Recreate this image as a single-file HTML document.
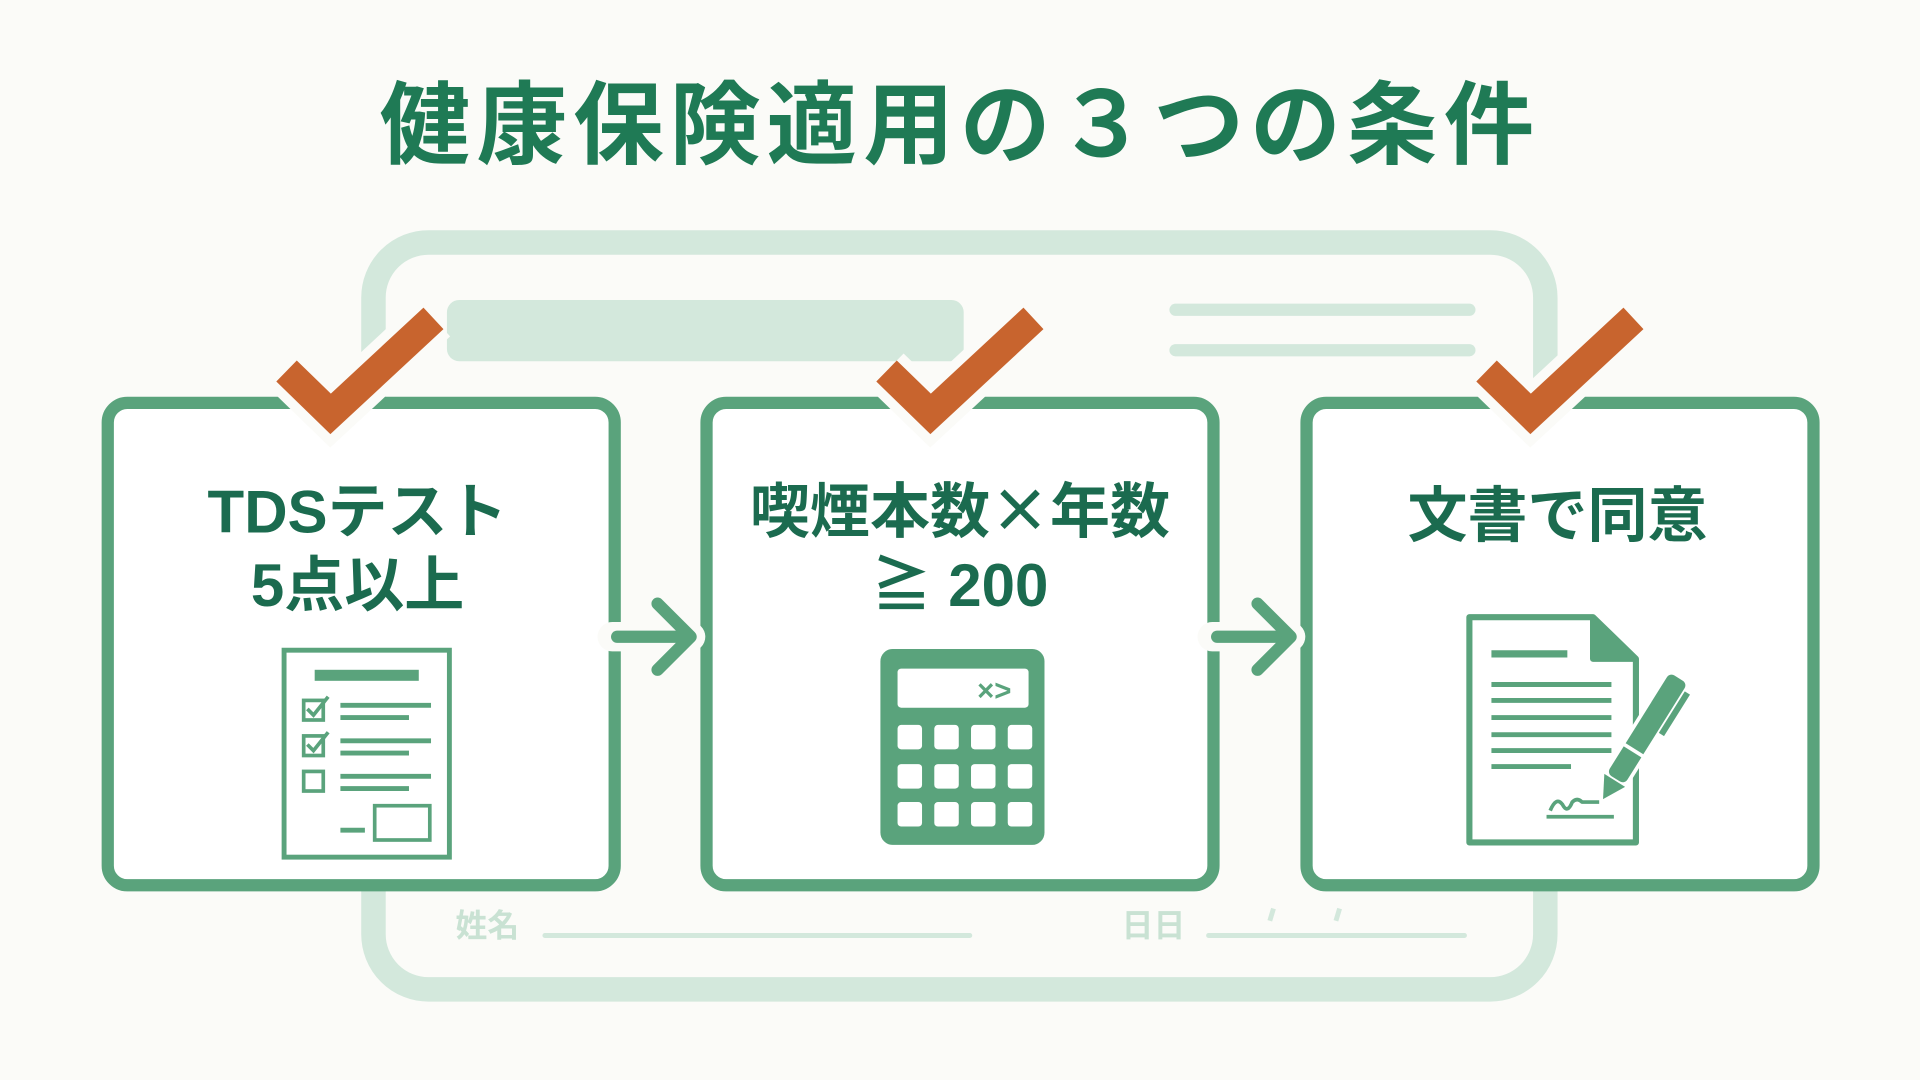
<!DOCTYPE html>
<html><head><meta charset="utf-8"><style>
html,body{margin:0;padding:0;background:#fbfbf8;}
svg{display:block}
text{font-family:"Liberation Sans","Noto Sans CJK JP",sans-serif;font-weight:700;}
</style></head><body>
<svg width="1920" height="1080" viewBox="0 0 1568 882" xmlns="http://www.w3.org/2000/svg">
<rect width="1568" height="882" fill="#fbfbf8"/>
<text x="784" y="128" text-anchor="middle" font-size="74" fill="#1f7a55" letter-spacing="5">健康保険適用の３つの条件</text>
<!-- background form -->
<rect x="305" y="198" width="957" height="610" rx="45" fill="none" stroke="#d3e8dc" stroke-width="20"/>
<rect x="365" y="245" width="422" height="50" rx="10" fill="#d3e8dc"/>
<line x1="960" y1="253" x2="1200" y2="253" stroke="#d3e8dc" stroke-width="10" stroke-linecap="round"/>
<line x1="960" y1="286" x2="1200" y2="286" stroke="#d3e8dc" stroke-width="10" stroke-linecap="round"/>
<text x="372" y="765" font-size="26" fill="#c9e2d3">姓名</text>
<line x1="445" y1="764" x2="792" y2="764" stroke="#d3e8dc" stroke-width="4" stroke-linecap="round"/>
<text x="916" y="765" font-size="26" fill="#c9e2d3">日日</text>
<line x1="987" y1="764" x2="1196" y2="764" stroke="#d3e8dc" stroke-width="4" stroke-linecap="round"/>
<line x1="1040" y1="742" x2="1037" y2="752" stroke="#d3e8dc" stroke-width="4"/>
<line x1="1094" y1="742" x2="1091" y2="752" stroke="#d3e8dc" stroke-width="4"/>
<!-- boxes -->
<g fill="#ffffff" stroke="#5aa37c" stroke-width="10">
<rect x="88" y="329" width="414" height="394" rx="16"/>
<rect x="577" y="329" width="414" height="394" rx="16"/>
<rect x="1067" y="329" width="414" height="394" rx="16"/>
</g>
<!-- arrows -->
<g stroke-linecap="round" stroke-linejoin="round" fill="none">
<line x1="500" y1="520" x2="560" y2="520" stroke="#fbfbf8" stroke-width="24"/>
<polyline points="537,493 564,520 537,547" stroke="#fbfbf8" stroke-width="24"/>
<line x1="504" y1="520" x2="560" y2="520" stroke="#5aa37c" stroke-width="10"/>
<polyline points="537,493 564,520 537,547" stroke="#5aa37c" stroke-width="10"/>
<line x1="990" y1="520" x2="1050" y2="520" stroke="#fbfbf8" stroke-width="24"/>
<polyline points="1027,493 1054,520 1027,547" stroke="#fbfbf8" stroke-width="24"/>
<line x1="994" y1="520" x2="1050" y2="520" stroke="#5aa37c" stroke-width="10"/>
<polyline points="1027,493 1054,520 1027,547" stroke="#5aa37c" stroke-width="10"/>
</g>
<!-- checks -->
<g fill="none" stroke-linejoin="miter">
<polyline points="234,303 270,338 354,260" stroke="#fbfbf8" stroke-width="40"/>
<polyline points="234,303 270,338 354,260" stroke="#c8642e" stroke-width="24"/>
<polyline points="724,303 760,338 844,260" stroke="#fbfbf8" stroke-width="40"/>
<polyline points="724,303 760,338 844,260" stroke="#c8642e" stroke-width="24"/>
<polyline points="1214,303 1250,338 1334,260" stroke="#fbfbf8" stroke-width="40"/>
<polyline points="1214,303 1250,338 1334,260" stroke="#c8642e" stroke-width="24"/>
</g>
<!-- texts -->
<g font-size="49" fill="#1b6b4f" text-anchor="middle">
<text x="292" y="435">TDSテスト</text>
<text x="292" y="495">5点以上</text>
<text x="784" y="435">喫煙本数<tspan font-family="Noto Sans CJK JP, sans-serif">×</tspan>年数</text>
<text x="784" y="495">≧ 200</text>
<text x="1272" y="438">文書で同意</text>
</g>
<!-- icon1 -->
<g stroke="#5aa37c" fill="none">
<rect x="232" y="531" width="135" height="169" stroke-width="4"/>
<rect x="257" y="547" width="85" height="9" fill="#5aa37c" stroke="none"/>
<rect x="248" y="572" width="16" height="16" stroke-width="3"/>
<rect x="248" y="601" width="16" height="16" stroke-width="3"/>
<rect x="248" y="630" width="16" height="16" stroke-width="3"/>
<polyline points="251,579 256,584 268,569" stroke-width="3"/>
<polyline points="251,608 256,613 268,598" stroke-width="3"/>
<g stroke-width="4">
<line x1="278" y1="576" x2="352" y2="576"/><line x1="278" y1="586" x2="334" y2="586"/>
<line x1="278" y1="605" x2="352" y2="605"/><line x1="278" y1="615" x2="334" y2="615"/>
<line x1="278" y1="634" x2="352" y2="634"/><line x1="278" y1="644" x2="334" y2="644"/>
<line x1="278" y1="678" x2="298" y2="678"/>
</g>
<rect x="306" y="658" width="45" height="28" stroke-width="3"/>
</g>
<!-- icon2 -->
<rect x="719" y="530" width="134" height="160" rx="10" fill="#5aa37c"/>
<rect x="733" y="546" width="107" height="32" rx="3" fill="#fff"/>
<text x="812" y="572" font-size="24" fill="#5aa37c" text-anchor="middle">×&gt;</text>
<g fill="#fff">
<rect x="733" y="592" width="20" height="20" rx="3"/><rect x="763" y="592" width="20" height="20" rx="3"/><rect x="793" y="592" width="20" height="20" rx="3"/><rect x="823" y="592" width="20" height="20" rx="3"/>
<rect x="733" y="624" width="20" height="20" rx="3"/><rect x="763" y="624" width="20" height="20" rx="3"/><rect x="793" y="624" width="20" height="20" rx="3"/><rect x="823" y="624" width="20" height="20" rx="3"/>
<rect x="733" y="655" width="20" height="20" rx="3"/><rect x="763" y="655" width="20" height="20" rx="3"/><rect x="793" y="655" width="20" height="20" rx="3"/><rect x="823" y="655" width="20" height="20" rx="3"/>
</g>
<!-- icon3 -->
<g stroke="#5aa37c" fill="none" stroke-width="5" stroke-linejoin="round">
<path d="M1200,504 H1301 L1336,538 V688 H1200 Z"/>
<path d="M1301,504 V538 H1336" fill="#5aa37c"/>
<g stroke-width="4">
<line x1="1218" y1="534" x2="1280" y2="534" stroke-width="6"/>
<line x1="1218" y1="559" x2="1316" y2="559"/><line x1="1218" y1="572" x2="1316" y2="572"/>
<line x1="1218" y1="586" x2="1316" y2="586"/><line x1="1218" y1="600" x2="1316" y2="600"/>
<line x1="1218" y1="613" x2="1316" y2="613"/><line x1="1218" y1="626" x2="1283" y2="626"/>
<line x1="1263" y1="667" x2="1318" y2="667" stroke-width="3"/>
</g>
<path d="M1266,662 q5,-12 10,-5 q4,8 8,-2 q4,-4 8,0 l14,0" stroke-width="3"/>
</g>
<g transform="translate(1342,600) rotate(32)">
<rect x="-10" y="-56" width="20" height="100" rx="6" fill="#5aa37c" stroke="#fff" stroke-width="3"/>
<path d="M-10,44 L0,62 L10,44 Z" fill="#5aa37c"/>
<rect x="10" y="-48" width="5" height="40" fill="#5aa37c"/>
<line x1="-10" y1="15" x2="10" y2="15" stroke="#fff" stroke-width="3"/>
</g>
</svg>
</body></html>
